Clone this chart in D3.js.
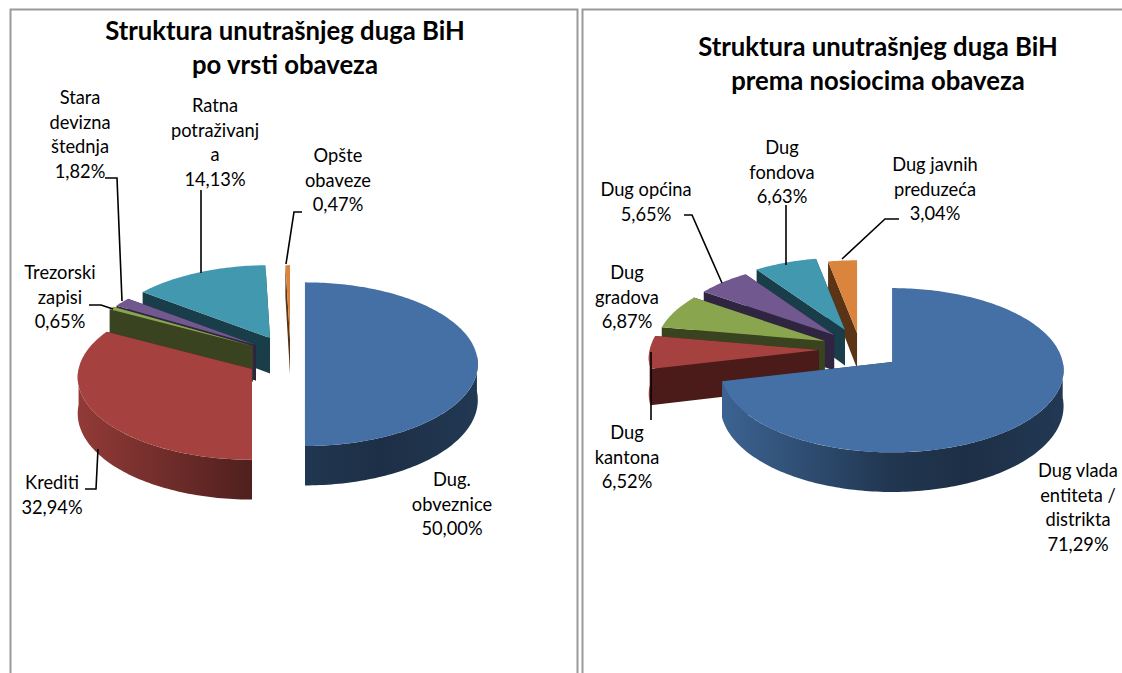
<!DOCTYPE html>
<html><head><meta charset="utf-8">
<script src="https://cdn.jsdelivr.net/npm/d3@7"></script>
<style>html,body{margin:0;padding:0;background:#fff}svg{display:block}text{font-family:Lato,"Open Sans",sans-serif}</style>
</head><body><svg id="c" width="1122" height="673"></svg>
<script>
// data
const titlesA = ["Struktura unutrašnjeg duga BiH","po vrsti obaveza"];
const titlesB = ["Struktura unutrašnjeg duga BiH","prema nosiocima obaveza"];
const valuesA = [50.00,32.94,0.65,1.82,14.13,0.47];
const valuesB = [71.29,6.52,6.87,5.65,6.63,3.04];
const labelsA = [["Dug.","obveznice","50,00%"],["Krediti","32,94%"],["Trezorski","zapisi","0,65%"],["Stara","devizna","štednja","1,82%"],["Ratna","potraživanj","a","14,13%"],["Opšte","obaveze","0,47%"]];
const labelsB = [["Dug vlada","entiteta /","distrikta","71,29%"],["Dug","kantona","6,52%"],["Dug","gradova","6,87%"],["Dug općina","5,65%"],["Dug","fondova","6,63%"],["Dug javnih","preduzeća","3,04%"]];
const colors = ["#4470a6","#a5423f","#89a54e","#71588f","#4198af","#db843d"];
const edgeColors = ["#213a58","#4a1b18","#3a431f","#2f2540","#1a3d4a","#5a3414"];

// layout
const panelA = {cx:280,cy:356,rx:172,ry:81,depth:35.5,
  shift:[[.145,0],[-.163,-.16],[-.157,.123],[-.14,.136],[-.058,.222],[.058,.222]],
  labelPos:[[452,480],[52,483],[60,273],[80,98],[215,106],[338,156]],
  leaders:[[[85,489],[96,489],[98,449]],[[89,305],[101,305],[113,309]],[[105,178],[117,178],[122,301]],[[201,190],[201,273]],[[302,212],[294,212],[286,264]]]};
const panelB = {cx:880,cy:356,rx:170,ry:81,depth:35.5,
  shift:[[.071,-.074],[-.359,.074],[-.325,.185],[-.27,.26],[-.206,.32],[-.135,.284]],
  labelPos:[[1078,471],[627,433],[627,273],[646,190],[782,148],[935,165]],
  leaders:[[[651,352],[651,420]],[[684,215],[692,215],[722,283]],[[786,205],[786,265]],[[899,219],[885,219],[842,259]]]};
const TILT = 0.1, LINE = 24.6;

const svg = d3.select("#c"), defs = svg.append("defs");
const line = d3.line();
function border(x0,x1){
  svg.append("path").attr("d",line([[x0,673],[x0,9.5],[x1,9.5],[x1,673]])).attr("fill","none").attr("stroke","#9a9a9a").attr("stroke-width",2);
}
border(10.5,577.5);
border(582.5,1130);

function drawPie(id,values,labels,titles,titleCx,titleY,p){
  const x = d3.scaleLinear().domain([-1,1]).range([p.cx-p.rx,p.cx+p.rx]);
  const y = d3.scaleLinear().domain([-1,1]).range([p.cy+p.ry,p.cy-p.ry]);
  const arcs = d3.pie().sort(null).value(d=>d).startAngle(0).endAngle(2*Math.PI)(values);
  const order = d3.range(values.length).reverse();
  order.forEach(i=>{
    const a = arcs[i], [ox,oz] = p.shift[i], c = colors[i];
    const P = (ang,h=0)=>{
      const X=Math.sin(ang), Z=Math.cos(ang), s=1/(1+(Z+oz*.5)*TILT);
      return [x(ox+X*s), y(oz+Z*s)+h*s];
    };
    const A = (h=0)=>[x(ox), y(oz)+h];
    const samples = (a0,a1)=>{const n=Math.max(2,Math.ceil((a1-a0)/0.02));return d3.range(n+1).map(k=>a0+(a1-a0)*k/n);};
    const g = svg.append("g");
    const quad = ang=>line([A(),P(ang),P(ang,p.depth),A(p.depth)])+"Z";
    g.append("path").attr("d",quad(a.endAngle)).attr("fill",edgeColors[i]);
    g.append("path").attr("d",quad(a.startAngle)).attr("fill",edgeColors[i]);
    const f0=Math.max(a.startAngle,Math.PI/2), f1=Math.min(a.endAngle,Math.PI*1.5);
    if(f1>f0){
      const gid=`${id}w${i}`, base=d3.color(c);
      const lg=defs.append("linearGradient").attr("id",gid).attr("gradientUnits","userSpaceOnUse")
        .attr("x1",x(ox-1)).attr("x2",x(ox+1)).attr("y1",0).attr("y2",0);
      [[0,.88],[.5,.48],[.72,.42],[1,.5]].forEach(([o,k])=>{
        lg.append("stop").attr("offset",o).attr("stop-color",d3.rgb(base.r*k,base.g*k,base.b*k));
      });
      const s=samples(f0,f1);
      g.append("path").attr("d",line(s.map(t=>P(t)).concat(s.slice().reverse().map(t=>P(t,p.depth))))+"Z").attr("fill",`url(#${gid})`);
    }
    const s=samples(a.startAngle,a.endAngle);
    g.append("path").attr("d",line([A()].concat(s.map(t=>P(t))))+"Z").attr("fill",c);
  });
  p.leaders.forEach(l=>{
    svg.append("path").attr("d",line(l)).attr("fill","none").attr("stroke","#000").attr("stroke-width",1.6);
  });
  labels.forEach((ls,i)=>{
    const t=svg.append("text").attr("text-anchor","middle").attr("font-size",18.3).attr("fill","#000");
    ls.forEach((s,k)=>t.append("tspan").attr("x",p.labelPos[i][0]).attr("y",p.labelPos[i][1]+6+k*LINE).text(s));
  });
  titles.forEach((s,k)=>{
    svg.append("text").attr("x",titleCx).attr("y",titleY+k*34).attr("text-anchor","middle").attr("font-size",25.7).attr("font-weight",700).attr("fill","#000").text(s);
  });
}
drawPie("a",valuesA,labelsA,titlesA,285,40,panelA);
drawPie("b",valuesB,labelsB,titlesB,878,56,panelB);
</script></body></html>
